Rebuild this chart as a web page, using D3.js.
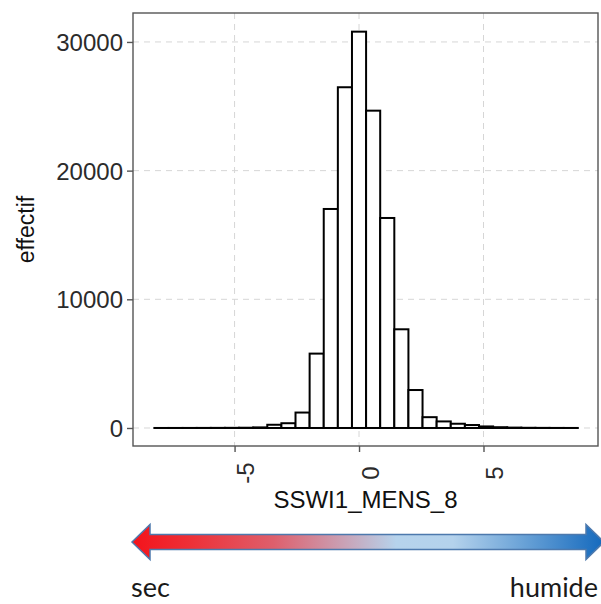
<!DOCTYPE html>
<html>
<head>
<meta charset="utf-8">
<script src="https://cdn.jsdelivr.net/npm/d3@7"></script>
<style>
  html, body { margin: 0; padding: 0; background: #fff; }
  svg { display: block; }
</style>
</head>
<body>
<svg id="chart" width="601" height="604"></svg>
<script>
// ---- data ----
const binEdges = [-8.2215, -7.6545, -7.0875, -6.5205, -5.9535, -5.3865, -4.8195, -4.2525,
  -3.6855, -3.1185, -2.5515, -1.9845, -1.4175, -0.8505, -0.2835, 0.2835, 0.8505, 1.4175,
  1.9845, 2.5515, 3.1185, 3.6855, 4.2525, 4.8195, 5.3865, 5.9535, 6.5205, 7.0875, 7.6545,
  8.2215, 8.7885];
const counts = [1, 2, 3, 5, 8, 12, 20, 45, 250, 370, 1200, 5780, 17020, 26480, 30800,
  24660, 16320, 7670, 2950, 840, 510, 330, 230, 120, 60, 30, 15, 8, 4, 2];
const xTicks = [-5, 0, 5];
const yTicks = [0, 10000, 20000, 30000];
const xLabel = "SSWI1_MENS_8";
const yLabel = "effectif";
const arrowLabels = ["sec", "humide"];

const bins = counts.map((c, i) => ({ x0: binEdges[i], x1: binEdges[i + 1], n: c }));

// ---- layout ----
const panel = { left: 133, top: 13, right: 598, bottom: 446 };
const svg = d3.select("#chart");
const FONT = "'Liberation Sans', Arial, sans-serif";

const x = d3.scaleLinear().domain([-9.08, 9.6]).range([panel.left, panel.right]);
const y = d3.scaleLinear().domain([-1400, 32250]).range([panel.bottom, panel.top]);

// grid
const grid = svg.append("g");
grid.selectAll("line.gx").data(xTicks).join("line")
  .attr("x1", d => x(d)).attr("x2", d => x(d))
  .attr("y1", panel.top).attr("y2", panel.bottom)
  .attr("stroke", "#d6d6d6").attr("stroke-width", 1).attr("stroke-dasharray", "6,5");
grid.selectAll("line.gy").data(yTicks).join("line")
  .attr("x1", panel.left).attr("x2", panel.right)
  .attr("y1", d => y(d)).attr("y2", d => y(d))
  .attr("stroke", "#d6d6d6").attr("stroke-width", 1).attr("stroke-dasharray", "6,5");

// bars
svg.append("g").selectAll("rect").data(bins).join("rect")
  .attr("x", d => x(d.x0))
  .attr("width", d => x(d.x1) - x(d.x0))
  .attr("y", d => y(d.n))
  .attr("height", d => y(0) - y(d.n))
  .attr("fill", "#fff")
  .attr("stroke", "#000")
  .attr("stroke-width", 2);

// panel border
svg.append("rect")
  .attr("x", panel.left).attr("y", panel.top)
  .attr("width", panel.right - panel.left).attr("height", panel.bottom - panel.top)
  .attr("fill", "none").attr("stroke", "#555").attr("stroke-width", 1.4);

// y axis
const yAxis = svg.append("g")
  .attr("transform", `translate(${panel.left},0)`)
  .call(d3.axisLeft(y).tickValues(yTicks).tickSize(6).tickPadding(4).tickFormat(d3.format("d")));
yAxis.select(".domain").remove();
yAxis.selectAll(".tick line").attr("stroke", "#555").attr("stroke-width", 1.4);
yAxis.selectAll(".tick text")
  .style("font-family", FONT)
  .style("font-size", "24px").attr("fill", "#2b2b2b").attr("dy", "0.36em");

// x axis
const xAxis = svg.append("g")
  .attr("transform", `translate(0,${panel.bottom})`)
  .call(d3.axisBottom(x).tickValues(xTicks).tickSize(6).tickFormat(d3.format("d")));
xAxis.select(".domain").remove();
xAxis.selectAll(".tick line").attr("stroke", "#555").attr("stroke-width", 1.4);
xAxis.selectAll(".tick text")
  .style("font-family", FONT)
  .style("font-size", "24px").attr("fill", "#2b2b2b")
  .attr("text-anchor", "middle")
  .attr("dy", null)
  .attr("y", null)
  .attr("transform", "translate(19,27) rotate(-90)")
  .text(d => d3.format("d")(d).replace("−", "-"));

// axis titles
svg.append("text")
  .attr("x", (panel.left + panel.right) / 2).attr("y", 508)
  .attr("text-anchor", "middle")
  .style("font-family", FONT)
  .style("font-size", "24px").attr("fill", "#111")
  .text(xLabel);
svg.append("text")
  .attr("transform", `translate(34,${(panel.top + panel.bottom) / 2}) rotate(-90)`)
  .attr("text-anchor", "middle")
  .style("font-family", FONT)
  .style("font-size", "23px").attr("fill", "#111")
  .text(yLabel);

// gradient arrow (sec -> humide)
const defs = svg.append("defs");
const grad = defs.append("linearGradient").attr("id", "arrowGrad")
  .attr("gradientUnits", "userSpaceOnUse")
  .attr("x1", 132).attr("x2", 604).attr("y1", 0).attr("y2", 0);
[[0, "#f4131b"], [0.12, "#ee2f36"], [0.3, "#de5f6c"], [0.45, "#c9a2b6"],
 [0.56, "#b6d3ec"], [0.68, "#b4d2ec"], [0.82, "#6ea5d8"], [1, "#1469bd"]]
  .forEach(([o, c]) => grad.append("stop").attr("offset", o).attr("stop-color", c));

const ay = 542, tipL = 132, tipR = 604, headLen = 18, headH = 17.5, shaftH = 7.5;
const arrowPts = [
  [tipL, ay], [tipL + headLen, ay - headH], [tipL + headLen, ay - shaftH],
  [tipR - headLen, ay - shaftH], [tipR - headLen, ay - headH], [tipR, ay],
  [tipR - headLen, ay + headH], [tipR - headLen, ay + shaftH],
  [tipL + headLen, ay + shaftH], [tipL + headLen, ay + headH]
];
svg.append("path")
  .attr("d", d3.line()(arrowPts) + "Z")
  .attr("fill", "url(#arrowGrad)")
  .attr("stroke", "#4d79ad").attr("stroke-width", 1.5).attr("stroke-linejoin", "miter");

svg.append("text")
  .attr("x", 131).attr("y", 597)
  .style("font-family", "Lato, 'Open Sans', sans-serif")
  .style("font-size", "27px").attr("fill", "#1a1a1a")
  .text(arrowLabels[0]);
svg.append("text")
  .attr("x", 598).attr("y", 597)
  .attr("text-anchor", "end")
  .style("font-family", "Lato, 'Open Sans', sans-serif")
  .style("font-size", "27px").attr("fill", "#1a1a1a")
  .text(arrowLabels[1]);
</script>
</body>
</html>
